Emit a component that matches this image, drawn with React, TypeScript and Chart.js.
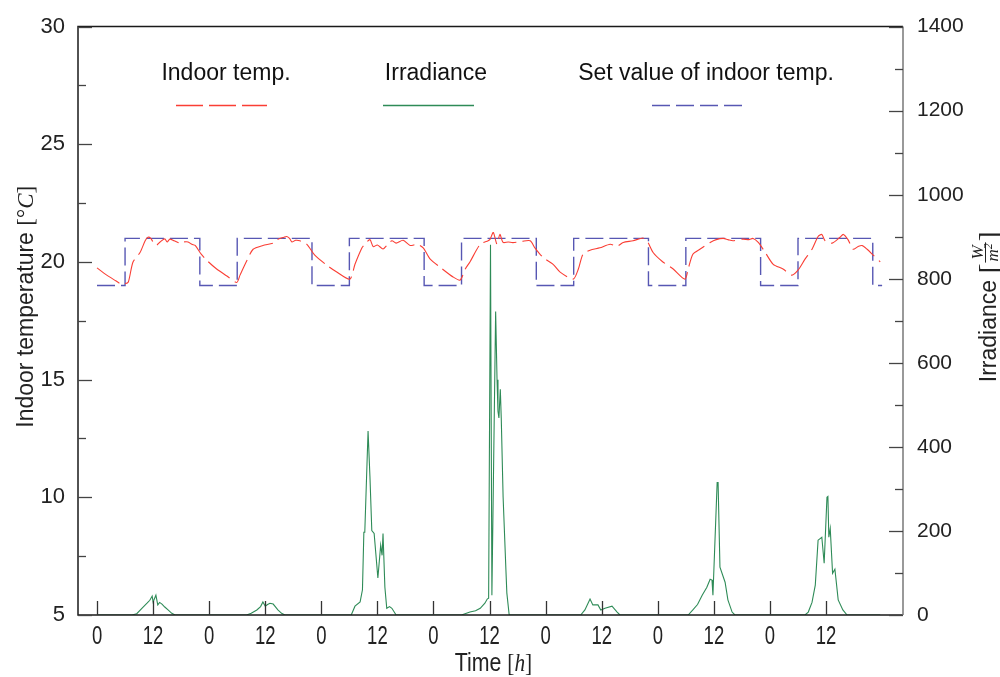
import React, { useEffect, useRef } from 'react';
import { Chart, registerables } from 'chart.js';

Chart.register(...registerables);

// ---- data (hours since start, values) ----
const tempHours = [
  0, 2, 4, 5, 6, 6.7, 7.7, 9.2, 10.3, 10.9, 11.5, 12.3, 12.8, 13.5, 14.5, 15, 15.6, 16.5, 17.8, 18.5, 19.5, 20.3, 21,
  22.3, 23.7, 25.6, 27.8, 29.9, 30.6, 32.1, 33.4, 35.5, 37.7, 38.7, 40, 40.6, 41.2, 41.7, 42.5, 43.4, 44.9,
  46.6, 49.2, 51.3, 54.1, 55.2, 56.7, 57.3, 58.4, 59.1, 60, 61.2, 62, 63.1, 64, 65.5, 67, 68.5,
  69.8, 71.3, 73.4, 76.2, 77.7, 78.8, 79.8, 82, 83.7, 84.1, 84.8, 85.6, 86.2, 86.9, 88, 89, 91, 92.7,
  93.7, 95.4, 97.6, 99.1, 101.9, 103, 104, 105.5, 107.6, 109.8, 111.3, 112.6, 114.7, 116.8, 117.7,
  119, 120.9, 123.3, 125.8, 126.5, 127.5, 129, 131.2, 132.5, 134, 135, 136.1, 138.2, 139.5, 140.4, 141.5,
  143, 144.7, 146.8, 148.7, 150, 151.5, 153, 154.3, 155.1, 155.8, 157.3, 159, 159.7, 160.7, 161.8, 162.8,
  163.7, 164.8, 166.1, 167.6,
];
const tempValues = [
  19.75, 19.45, 19.2, 19.08, 19.08, 19.15, 20.0, 20.4, 20.9, 21.05, 21.0, 20.75, 20.72, 20.85, 20.98, 20.85, 20.97, 20.9, 20.8, 20.85, 20.85, 20.75, 20.7,
  20.33, 20.03, 19.7, 19.4, 19.13, 19.44, 20.07, 20.54, 20.7, 20.8, 20.96, 21.05, 21.08, 21.0, 20.85, 20.92, 20.9, 20.75,
  20.29, 19.86, 19.57, 19.27, 19.9, 20.6, 20.75, 20.95, 20.65, 20.72, 20.55, 20.7, 20.9, 20.8, 20.92, 20.7, 20.75,
  20.6, 20.12, 19.78, 19.36, 19.23, 19.7, 20.0, 20.75, 20.9, 20.96, 21.25, 20.75, 21.17, 20.83, 20.85, 20.82, 20.88, 20.9,
  20.6, 20.2, 19.9, 19.57, 19.27, 19.7, 20.33, 20.5, 20.6, 20.75, 20.67, 20.83, 20.9, 21.02, 20.9,
  20.4, 20.03, 19.7, 19.27, 19.7, 20.33, 20.54, 20.83, 20.95, 21.0, 20.95, 20.9, 20.97, 20.95, 21.0, 20.83,
  20.4, 19.9, 19.7, 19.44, 19.65, 20.12, 20.54, 21.08, 21.17, 20.9, 20.8, 21.05, 21.17, 20.95, 20.54, 20.65,
  20.7, 20.54, 20.29, 20.0,
];

const irrHours = [
  0, 7.5, 8.5, 9.6, 10.7, 11.3, 11.8, 12, 12.6, 13, 13.4, 13.9, 14.5, 15.2, 16, 16.7,
  32, 33, 34.2, 35, 35.5, 36, 36.5, 37, 37.7, 38.7, 39.5, 40.2,
  54.4, 55.2, 56.3, 56.8, 57.1, 57.3, 58, 58.4, 58.8, 59.3, 60.1, 60.7, 61, 61.2, 61.6, 62, 62.6, 63.1, 64,
  78, 79.8, 81, 82, 83, 83.5, 83.8, 84.2, 84.5, 85.3, 85.6, 85.8, 86.0, 86.3, 86.5, 86.9, 87.5, 87.7, 88.2,
  103.5, 104.4, 105.5, 106.1, 107.2, 107.8, 108.7, 110.2, 111.3, 111.9,
  126.5, 127.5, 128.5, 129.5, 130.5, 131.2, 131.6, 131.8, 132.7, 132.9, 133.3, 134.4, 135, 135.9, 136.5,
  151.5, 152.2, 153, 153.7, 154.3, 155.1, 155.6, 156.2, 156.4, 156.6, 156.9, 157.4, 157.9, 158.6, 159.6, 160.5, 167.6,
];
const irrValues = [
  0, 0, 3, 16, 28, 35, 45, 31, 47, 24, 30, 26, 19, 12, 4, 0,
  0, 4, 12, 20, 31, 21, 25, 28, 26, 12, 4, 0,
  0, 21, 31, 60, 197, 197, 438, 330, 201, 194, 88, 166, 142, 194, 66, 16, 20, 16, 0,
  0, 7, 10, 16, 28, 38, 40, 881, 47, 722, 560, 485, 469, 537, 469, 280, 107, 52, 0,
  0, 12, 38, 24, 24, 12, 16, 21, 7, 0,
  0, 12, 25, 47, 66, 85, 83, 47, 315, 315, 114, 78, 36, 7, 0,
  0, 7, 30, 71, 178, 185, 123, 280, 282, 185, 206, 99, 109, 36, 12, 0, 0,
];

const setHours = [0, 6, 22, 30, 46, 54, 70, 78, 94, 102, 118, 126, 142, 150, 166, 168];
const setValues = [19, 21, 19, 21, 19, 21, 19, 21, 19, 21, 19, 21, 19, 21, 19, 19];

const xTickHours = [0, 12, 24, 36, 48, 60, 72, 84, 96, 108, 120, 132, 144, 156];
const xTickLabels = ['0', '12', '0', '12', '0', '12', '0', '12', '0', '12', '0', '12', '0', '12'];
const leftTicks = [5, 10, 15, 20, 25, 30];
const rightTicks = [0, 200, 400, 600, 800, 1000, 1200, 1400];
const legendLabels = ['Indoor temp.', 'Irradiance', 'Set value of indoor temp.'];

const SANS = "'Liberation Sans', Arial, Helvetica, sans-serif";
const SERIF = "'Liberation Serif', 'DejaVu Serif', serif";

const RED = 'rgb(250,62,52)';
const GREEN = 'rgb(46,139,87)';
const BLUE = 'rgba(45,45,160,0.8)';
const seriesColors = [RED, GREEN, BLUE];
const seriesDash: number[][] = [[27, 6], [], [18, 6]];

type Part = { t: string; f: string; dy?: number };

function drawParts(ctx: CanvasRenderingContext2D, parts: Part[]) {
  let total = 0;
  const ws = parts.map((p) => {
    ctx.font = p.f;
    const w = ctx.measureText(p.t).width;
    total += w;
    return w;
  });
  let x = -total / 2;
  parts.forEach((p, i) => {
    ctx.font = p.f;
    ctx.fillText(p.t, x, p.dy || 0);
    x += ws[i];
  });
}

const overlayPlugin = {
  id: 'overlay',
  afterDraw(chart: any) {
    const { ctx, chartArea: a, scales } = chart;
    const xs = scales.x;
    const yl = scales.y;
    const yr = scales.y1;
    ctx.save();

    // frame
    ctx.lineWidth = 1.5;
    ctx.strokeStyle = '#1a1a1a';
    ctx.beginPath();
    ctx.moveTo(a.right, a.top);
    ctx.lineTo(a.left, a.top);
    ctx.lineTo(a.left, a.bottom);
    ctx.lineTo(a.right, a.bottom);
    ctx.stroke();
    ctx.strokeStyle = '#777';
    ctx.beginPath();
    ctx.moveTo(a.right, a.top);
    ctx.lineTo(a.right, a.bottom);
    ctx.stroke();

    // x ticks (inward)
    ctx.strokeStyle = '#333';
    ctx.lineWidth = 1.3;
    xs.ticks.forEach((t: any) => {
      const px = Math.round(xs.getPixelForValue(t.value)) + 0.5;
      ctx.beginPath();
      ctx.moveTo(px, a.bottom);
      ctx.lineTo(px, a.bottom - 14);
      ctx.stroke();
    });

    // y ticks (major + minor)
    const yTicks = (scale: any, side: 'left' | 'right', color: string) => {
      ctx.strokeStyle = color;
      const vals = scale.ticks.map((t: any) => t.value);
      const x0 = side === 'left' ? a.left : a.right;
      const dir = side === 'left' ? 1 : -1;
      vals.forEach((v: number, i: number) => {
        const py = Math.round(scale.getPixelForValue(v)) + 0.5;
        ctx.beginPath();
        ctx.moveTo(x0, py);
        ctx.lineTo(x0 + dir * 14, py);
        ctx.stroke();
        if (i < vals.length - 1) {
          const pm = Math.round(scale.getPixelForValue((v + vals[i + 1]) / 2)) + 0.5;
          ctx.beginPath();
          ctx.moveTo(x0, pm);
          ctx.lineTo(x0 + dir * 8, pm);
          ctx.stroke();
        }
      });
    };
    yTicks(yl, 'left', '#444');
    yTicks(yr, 'right', '#444');

    // x tick labels (condensed)
    ctx.fillStyle = '#222';
    ctx.textAlign = 'center';
    ctx.textBaseline = 'middle';
    xs.ticks.forEach((t: any, i: number) => {
      const px = xs.getPixelForValue(t.value);
      ctx.save();
      ctx.translate(px, a.bottom + 22);
      ctx.scale(0.74, 1);
      ctx.font = `25px ${SANS}`;
      ctx.fillText(xTickLabels[i], 0, 0);
      ctx.restore();
    });

    // x title
    ctx.textAlign = 'left';
    ctx.textBaseline = 'alphabetic';
    ctx.save();
    ctx.translate((a.left + a.right) / 2 + 3, a.bottom + 56);
    ctx.scale(0.82, 1);
    drawParts(ctx, [
      { t: 'Time ', f: `26px ${SANS}` },
      { t: '[', f: `26px ${SERIF}` },
      { t: 'h', f: `italic 26px ${SERIF}` },
      { t: ']', f: `26px ${SERIF}` },
    ]);
    ctx.restore();

    // left title
    ctx.save();
    ctx.translate(25, (a.top + a.bottom) / 2 - 14);
    ctx.rotate(-Math.PI / 2);
    drawParts(ctx, [
      { t: 'Indoor temperature ', f: `23px ${SANS}`, dy: 8 },
      { t: '[°', f: `23px ${SERIF}`, dy: 8 },
      { t: 'C', f: `italic 23px ${SERIF}`, dy: 8 },
      { t: ']', f: `23px ${SERIF}`, dy: 8 },
    ]);
    ctx.restore();

    // right title with fraction
    ctx.save();
    ctx.translate(988, (a.top + a.bottom) / 2 - 14);
    ctx.rotate(-Math.PI / 2);
    ctx.font = `23px ${SANS}`;
    const t1 = 'Irradiance ';
    const w1 = ctx.measureText(t1).width;
    ctx.font = `30px ${SERIF}`;
    const wb = ctx.measureText('[').width;
    ctx.font = `italic 17px ${SERIF}`;
    const wW = ctx.measureText('W').width;
    const wm = ctx.measureText('m').width;
    ctx.font = `italic 12px ${SERIF}`;
    const w2 = ctx.measureText('2').width;
    const wf = Math.max(wW, wm + w2) + 4;
    const total = w1 + wb + wf + wb;
    const x0 = -total / 2;
    ctx.font = `23px ${SANS}`;
    ctx.fillText(t1, x0, 8);
    ctx.font = `30px ${SERIF}`;
    ctx.fillText('[', x0 + w1, 11);
    ctx.fillText(']', x0 + w1 + wb + wf, 11);
    const fc = x0 + w1 + wb + wf / 2;
    ctx.strokeStyle = '#222';
    ctx.lineWidth = 1;
    ctx.beginPath();
    ctx.moveTo(fc - wf / 2 + 1, -2.5);
    ctx.lineTo(fc + wf / 2 - 1, -2.5);
    ctx.stroke();
    ctx.font = `italic 17px ${SERIF}`;
    ctx.fillText('W', fc - wW / 2, -5);
    ctx.fillText('m', fc - (wm + w2) / 2, 10);
    ctx.font = `italic 12px ${SERIF}`;
    ctx.fillText('2', fc - (wm + w2) / 2 + wm, 4);
    ctx.restore();

    // legend
    const textCx = [226, 436, 706];
    const lineX = [[176, 267], [383, 474], [652, 745]];
    ctx.textAlign = 'center';
    ctx.textBaseline = 'alphabetic';
    ctx.fillStyle = '#111';
    ctx.font = `23px ${SANS}`;
    legendLabels.forEach((lab, i) => {
      ctx.fillText(lab, textCx[i], 80);
      ctx.save();
      ctx.strokeStyle = seriesColors[i];
      ctx.lineWidth = 1.5;
      ctx.setLineDash(seriesDash[i]);
      ctx.beginPath();
      ctx.moveTo(lineX[i][0], 105.5);
      ctx.lineTo(lineX[i][1], 105.5);
      ctx.stroke();
      ctx.restore();
    });

    ctx.restore();
  },
};

export default function App() {
  const canvasRef = useRef<HTMLCanvasElement | null>(null);

  useEffect(() => {
    const canvas = canvasRef.current;
    if (!canvas) return;
    const chart = new Chart(canvas, {
      type: 'line',
      data: {
        datasets: [
          {
            label: legendLabels[0],
            data: tempHours.map((h, i) => ({ x: h, y: tempValues[i] })),
            yAxisID: 'y',
            borderColor: RED,
            borderWidth: 1.1,
            borderDash: seriesDash[0],
            pointRadius: 0,
            tension: 0.25,
          },
          {
            label: legendLabels[1],
            data: irrHours.map((h, i) => ({ x: h, y: irrValues[i] })),
            yAxisID: 'y1',
            borderColor: GREEN,
            borderWidth: 1.1,
            pointRadius: 0,
            tension: 0,
          },
          {
            label: legendLabels[2],
            data: setHours.map((h, i) => ({ x: h, y: setValues[i] })),
            yAxisID: 'y',
            borderColor: BLUE,
            borderWidth: 1.4,
            borderDash: seriesDash[2],
            pointRadius: 0,
            stepped: 'before',
          },
        ],
      },
      options: {
        animation: false,
        responsive: false,
        devicePixelRatio: 1,
        layout: { padding: { top: 24, bottom: 62, left: 0, right: 0 } },
        plugins: { legend: { display: false }, tooltip: { enabled: false } },
        scales: {
          x: {
            type: 'linear',
            display: false,
            min: -4.07,
            max: 172.47,
            afterBuildTicks: (s: any) => {
              s.ticks = xTickHours.map((v) => ({ value: v }));
            },
          },
          y: {
            type: 'linear',
            position: 'left',
            min: 5,
            max: 30,
            grid: { display: false, drawTicks: false },
            border: { display: false },
            afterBuildTicks: (s: any) => {
              s.ticks = leftTicks.map((v) => ({ value: v }));
            },
            afterFit: (s: any) => {
              s.width = 78;
            },
            ticks: {
              font: { family: SANS, size: 22 },
              color: '#222',
              padding: 13,
              callback: (v: any) => String(v),
            },
          },
          y1: {
            type: 'linear',
            position: 'right',
            min: 0,
            max: 1400,
            grid: { display: false, drawTicks: false },
            border: { display: false },
            afterBuildTicks: (s: any) => {
              s.ticks = rightTicks.map((v) => ({ value: v }));
            },
            afterFit: (s: any) => {
              s.width = 97;
            },
            ticks: {
              font: { family: SANS, size: 21 },
              color: '#222',
              padding: 14,
              callback: (v: any) => String(v),
            },
          },
        },
      } as any,
      plugins: [overlayPlugin],
    });
    return () => chart.destroy();
  }, []);

  return (
    <div style={{ position: 'absolute', left: 0, top: 0, width: 1000, height: 677, background: '#fff' }}>
      <canvas ref={canvasRef} width={1000} height={677} style={{ display: 'block', width: 1000, height: 677 }} />
    </div>
  );
}
